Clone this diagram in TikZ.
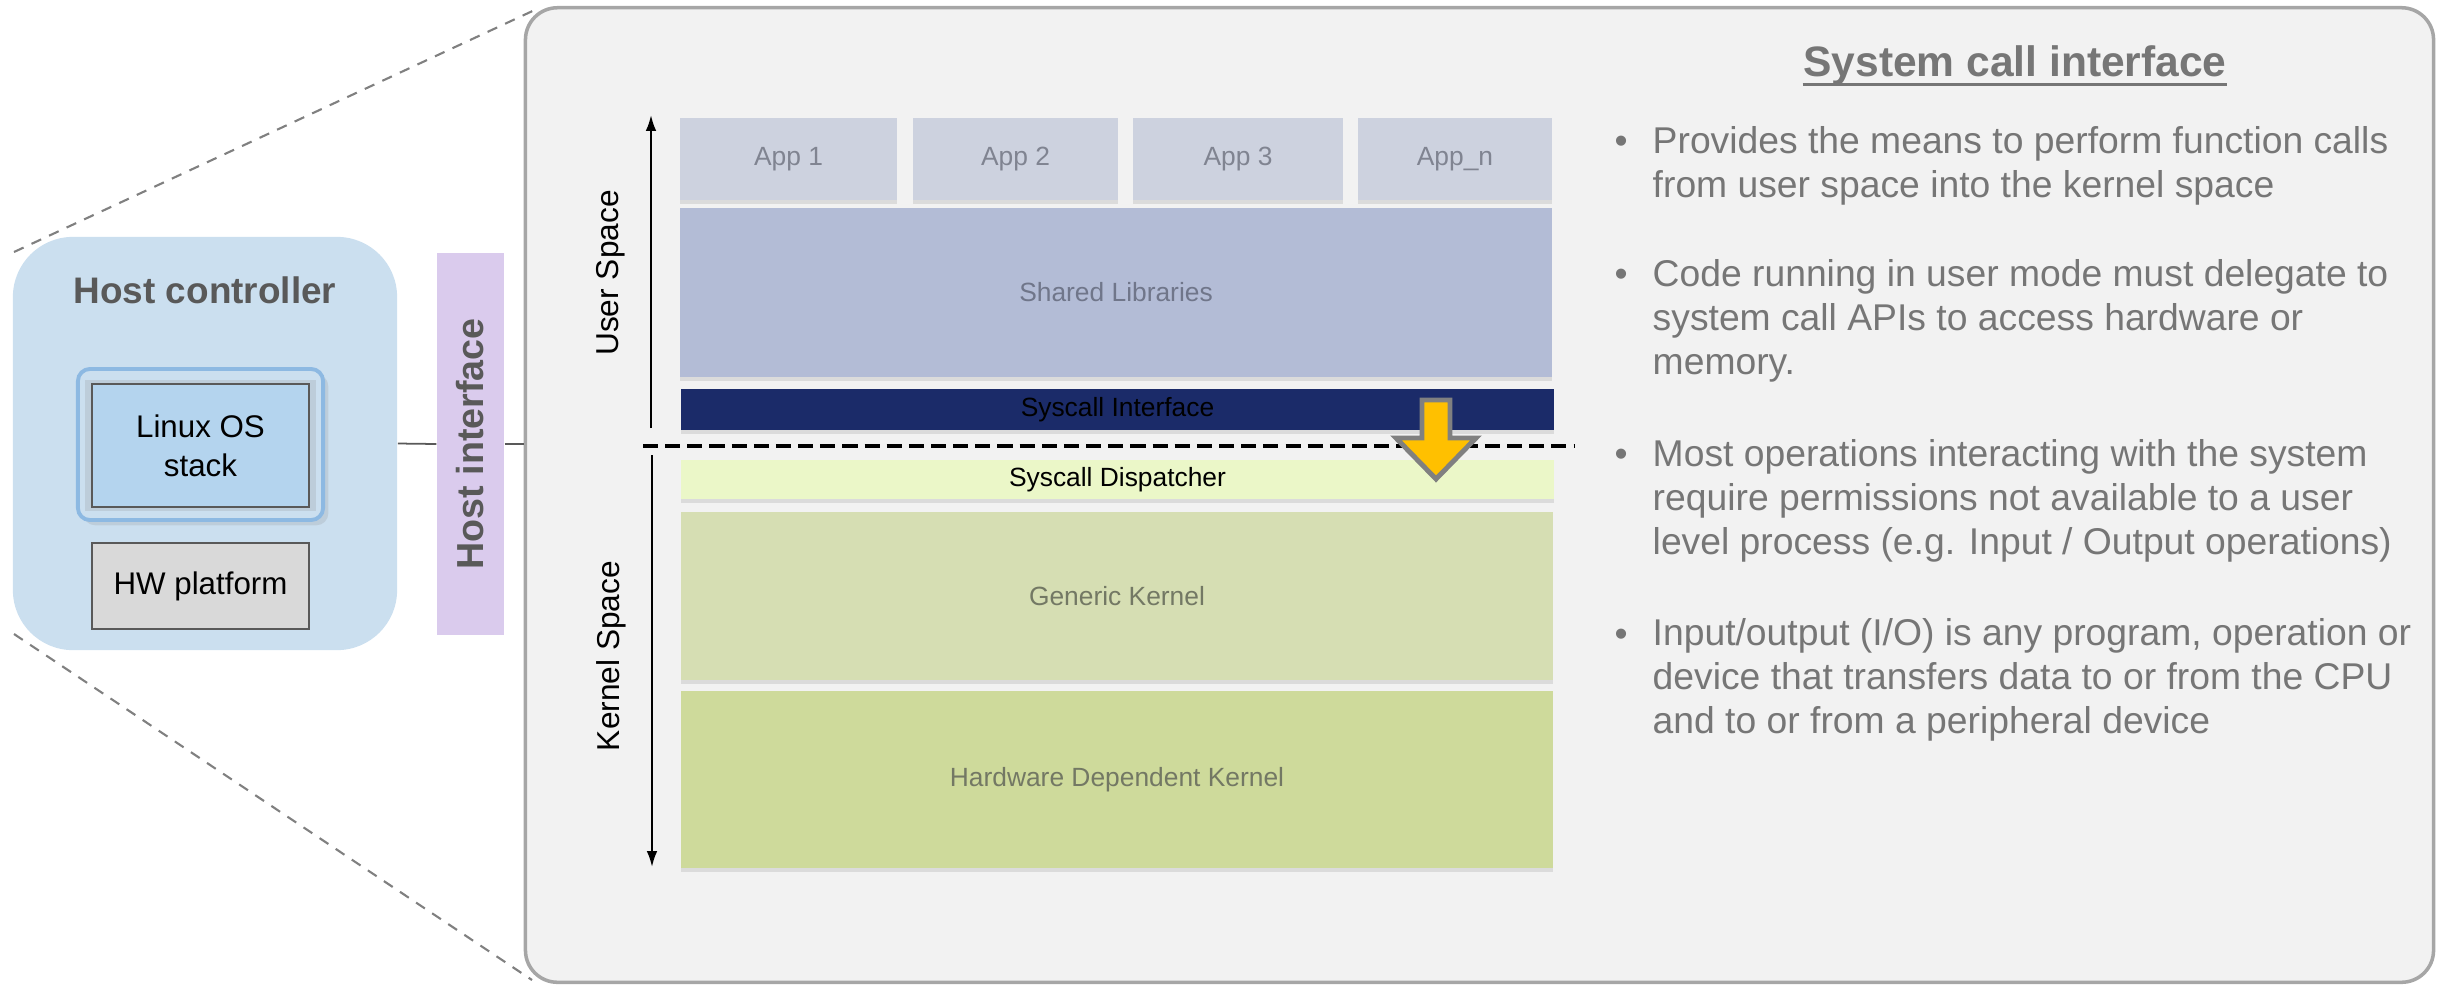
\documentclass[tikz,border=0pt]{standalone}
\usepackage{fontspec}
\setmainfont{Liberation Sans}
\usetikzlibrary{arrows.meta,shadows}

\definecolor{hostblue}{RGB}{203,223,239}
\definecolor{osblue}{RGB}{180,212,238}
\definecolor{glowblue}{RGB}{141,185,226}
\definecolor{hwgray}{RGB}{217,217,217}
\definecolor{ifpurple}{RGB}{218,203,237}
\definecolor{darktext}{RGB}{89,89,89}
\definecolor{zoomgray}{RGB}{128,128,128}
\definecolor{panelfill}{RGB}{242,242,242}
\definecolor{panelline}{RGB}{166,166,166}
\definecolor{appfill}{RGB}{205,210,223}
\definecolor{apptext}{RGB}{128,132,145}
\definecolor{libfill}{RGB}{179,188,214}
\definecolor{libtext}{RGB}{112,118,138}
\definecolor{sysnavy}{RGB}{27,43,105}
\definecolor{dispfill}{RGB}{235,247,200}
\definecolor{genfill}{RGB}{214,222,179}
\definecolor{hdkfill}{RGB}{206,218,155}
\definecolor{kertext}{RGB}{115,120,100}
\definecolor{bodytext}{RGB}{118,118,118}
\definecolor{arrowgold}{RGB}{255,192,0}

\begin{document}
\begin{tikzpicture}[x=0.01cm, y=-0.01cm]
    \tikzstyle{every node}=[inner sep=0pt, font=\fontsize{7.5}{9}\selectfont]
    \tikzstyle{layer}=[rectangle, drop shadow={shadow xshift=0pt, shadow yshift=-1.2pt, opacity=0.2}]
    \tikzstyle{app}=[layer, fill=appfill, text=apptext, minimum height=0.82cm]
    \tikzstyle{spacearrow}=[-{Latex[length=4.5pt,width=3pt]}, line width=0.6pt]
    \tikzstyle{spacelabel}=[rotate=90, font=\fontsize{9}{11}\selectfont]
    \tikzstyle{zoomline}=[dash pattern=on 3pt off 2.5pt, line width=0.6pt, draw=zoomgray]
    \tikzstyle{linkline}=[draw=darktext, line width=0.5pt]
    \tikzstyle{bodyline}=[anchor=north west, align=left, text=bodytext, font=\fontsize{10.6}{12.5}\selectfont]
    \tikzstyle{bulletdot}=[anchor=base west, text=bodytext, font=\fontsize{10.6}{12.5}\selectfont]

    \useasboundingbox (0,0) rectangle (2448,984);

    % Big panel
    \node[rectangle, rounded corners=0.32cm, fill=panelfill, draw=panelline, line width=1pt,
          minimum width=19.07cm, minimum height=9.74cm] (panel) at (1479.5,495) {};

    % Zoom lines
    \coordinate (ztl) at (14,252);
    \coordinate (ztr) at (539,8);
    \coordinate (zbl) at (14,634);
    \coordinate (zbr) at (532,980);
    \draw[zoomline] (ztl) -- (ztr);
    \draw[zoomline] (zbl) -- (zbr);

    % Host controller
    \node[rectangle, rounded corners=0.6cm, fill=hostblue, minimum width=3.84cm, minimum height=4.13cm] (host) at (205,443.5) {};
    \node[font=\fontsize{10.5}{12}\selectfont\bfseries, text=darktext] (hctitle) at (205,290) {Host controller};
    \node[rectangle, rounded corners=0.12cm, fill=hostblue, draw=glowblue, line width=1.1pt,
          drop shadow={shadow xshift=1.5pt, shadow yshift=-1.5pt, opacity=0.18},
          minimum width=2.45cm, minimum height=1.51cm] (osglow) at (200.5,444.5) {};
    \node[rectangle, fill=osblue, draw=darktext, line width=0.6pt, align=center,
          drop shadow={shadow xshift=0pt, shadow yshift=0pt, shadow scale=1.06, opacity=0.18},
          minimum width=2.17cm, minimum height=1.23cm, font=\fontsize{8.9}{11}\selectfont] (os) at (200.5,445.5) {Linux OS\\stack};
    \node[rectangle, fill=hwgray, draw=darktext, line width=0.6pt,
          minimum width=2.17cm, minimum height=0.86cm, font=\fontsize{8.9}{11}\selectfont] (hw) at (200.5,586) {HW platform};

    % Host interface
    \node[rectangle, rotate=90, fill=ifpurple, text=darktext, minimum width=3.82cm, minimum height=0.67cm,
          font=\fontsize{10.7}{12}\selectfont\bfseries] (hostif) at (470.5,444) {Host interface};
    \draw[linkline] (host.east) -- (hostif.north);
    \draw[linkline] (hostif.south) -- (hostif.south -| panel.west);

    % User / kernel space arrows
    \coordinate (usrbot) at (651,428);
    \coordinate (usrtop) at (651,115);
    \coordinate (krntop) at (652,455);
    \coordinate (krnbot) at (652,867);
    \draw[spacearrow] (usrbot) -- (usrtop);
    \draw[spacearrow] (krntop) -- (krnbot);
    \node[spacelabel] (usrlbl) at (611,273) {User Space};
    \node[spacelabel] (krnlbl) at (611,656) {Kernel Space};

    % Row 1 (apps)
    \node[app, minimum width=2.17cm] (app1) at (788.5,159) {App 1};
    \node[app, minimum width=2.05cm] (app2) at (1015.5,159) {App 2};
    \node[app, minimum width=2.10cm] (app3) at (1238,159) {App 3};
    \node[app, minimum width=1.94cm] (appn) at (1455,159) {App\_n};

    % Layers
    \node[layer, fill=libfill, text=libtext, minimum width=8.72cm, minimum height=1.69cm] (libs) at (1116,292.5) {Shared Libraries};
    \node[layer, fill=sysnavy, text=black, minimum width=8.73cm, minimum height=0.41cm] (sysif) at (1117.5,409.5) {Syscall Interface};
    \node[layer, fill=dispfill, text=black, minimum width=8.73cm, minimum height=0.39cm] (sysdisp) at (1117.5,479.5) {Syscall Dispatcher};
    \node[layer, fill=genfill, text=kertext, minimum width=8.72cm, minimum height=1.68cm] (generic) at (1117,596) {Generic Kernel};
    \node[layer, fill=hdkfill, text=kertext, minimum width=8.72cm, minimum height=1.77cm] (hdk) at (1117,779.5) {Hardware Dependent Kernel};

    % User / kernel boundary
    \coordinate (bndl) at (643,446);
    \coordinate (bndr) at (1574,446);
    \draw[line width=1.4pt, dash pattern=on 4.3pt off 2pt] (bndl) -- (bndr);

    % Syscall arrow
    \draw[fill=arrowgold, draw=zoomgray, line width=1.4pt, line join=miter]
        (1422,400) -- (1450,400) -- (1450,438) -- (1476,438) -- (1436,479) -- (1396,438) -- (1422,438) -- cycle;

    % Text column
    \node[font=\fontsize{12.1}{14}\selectfont\bfseries, text=bodytext] (title) at (2015,65) {System call interface};
    \draw[bodytext, line width=0.85pt] ([yshift=-2.4pt]title.base west) -- ([yshift=-2.4pt]title.base east);

    \node[bulletdot] (dot1) at (1614,153) {•};
    \node[bodyline] (txt1) at (1652,126) {Provides the means to perform function calls\\from user space into the kernel space};
    \node[bulletdot] (dot2) at (1614,286) {•};
    \node[bodyline] (txt2) at (1652,259) {Code running in user mode must delegate to\\system call APIs to access hardware or\\memory.};
    \node[bulletdot] (dot3) at (1614,466) {•};
    \node[bodyline] (txt3) at (1652,439) {Most operations interacting with the system\\require permissions not available to a user\\level process (e.g. Input / Output operations)};
    \node[bulletdot] (dot4) at (1614,646) {•};
    \node[bodyline] (txt4) at (1652,618) {Input/output (I/O) is any program, operation or\\device that transfers data to or from the CPU\\and to or from a peripheral device};

\end{tikzpicture}
\end{document}
